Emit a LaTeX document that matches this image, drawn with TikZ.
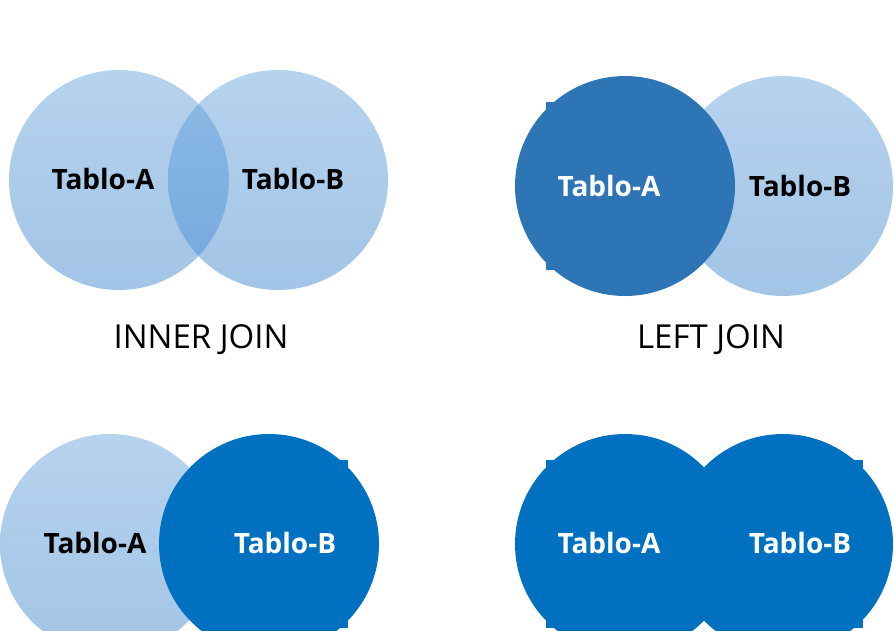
\documentclass[tikz,border=0pt]{standalone}
\usepackage{fontspec}
\setmainfont{Open Sans}
\definecolor{paleTop}{HTML}{B6D3EE}
\definecolor{paleBot}{HTML}{A2C4E6}
\definecolor{midTop}{HTML}{8DBAE5}
\definecolor{midBot}{HTML}{74A9DC}
\definecolor{leftBlue}{HTML}{2E75B6}
\definecolor{fullBlue}{HTML}{0070C0}

\begin{document}
\begin{tikzpicture}[x=1pt,y=-1pt,
  setpale/.style={circle,inner sep=0pt,minimum size=220pt,draw=none,top color=paleTop,bottom color=paleBot},
  setleft/.style={circle,inner sep=0pt,minimum size=220pt,fill=leftBlue},
  setfull/.style={circle,inner sep=0pt,minimum size=220pt,fill=fullBlue},
  tablo/.style={anchor=base,inner sep=0pt,font=\fontsize{28}{34}\selectfont\bfseries},
  joinname/.style={anchor=base,inner sep=0pt,font=\fontsize{33}{40}\selectfont}]
\useasboundingbox (0,0) rectangle (894,630);
\clip (0,0) rectangle (894,630);

% inner join
\node[setpale] (ia) at (119,180) {};
\node[setpale] (ib) at (278,180) {};
\begin{scope}
\clip (ia.center) circle[radius=110pt];
\shade[top color=midTop,bottom color=midBot] (ib.center) circle[radius=110pt];
\end{scope}
\node[tablo] (ita) at (103,189) {Tablo-A};
\node[tablo] (itb) at (293,189) {Tablo-B};
\node[joinname] (inner) at (201,348) {INNER JOIN};

% left join
\node[setpale] (lb) at (783,186) {};
\fill[leftBlue] (546,102) rectangle (556,112);
\fill[leftBlue] (546,260) rectangle (556,270);
\node[setleft] (la) at (625,186) {};
\node[tablo,text=white] (lta) at (609,196) {Tablo-A};
\node[tablo] (ltb) at (800,196) {Tablo-B};
\node[joinname] (left) at (711,348) {LEFT JOIN};

% right join
\node[setpale] (ra) at (110,544) {};
\fill[fullBlue] (338,460) rectangle (348,470);
\fill[fullBlue] (338,618) rectangle (348,628);
\node[setfull] (rb) at (269,544) {};
\node[tablo] (rta) at (95,553) {Tablo-A};
\node[tablo,text=white] (rtb) at (285,553) {Tablo-B};

% full join
\fill[fullBlue] (546,460) rectangle (556,470);
\fill[fullBlue] (546,618) rectangle (556,628);
\fill[fullBlue] (853,460) rectangle (863,470);
\fill[fullBlue] (853,618) rectangle (863,628);
\node[setfull] (fa) at (625,544) {};
\node[setfull] (fb) at (783,544) {};
\node[tablo,text=white] (fta) at (609,553) {Tablo-A};
\node[tablo,text=white] (ftb) at (800,553) {Tablo-B};
\end{tikzpicture}
\end{document}
